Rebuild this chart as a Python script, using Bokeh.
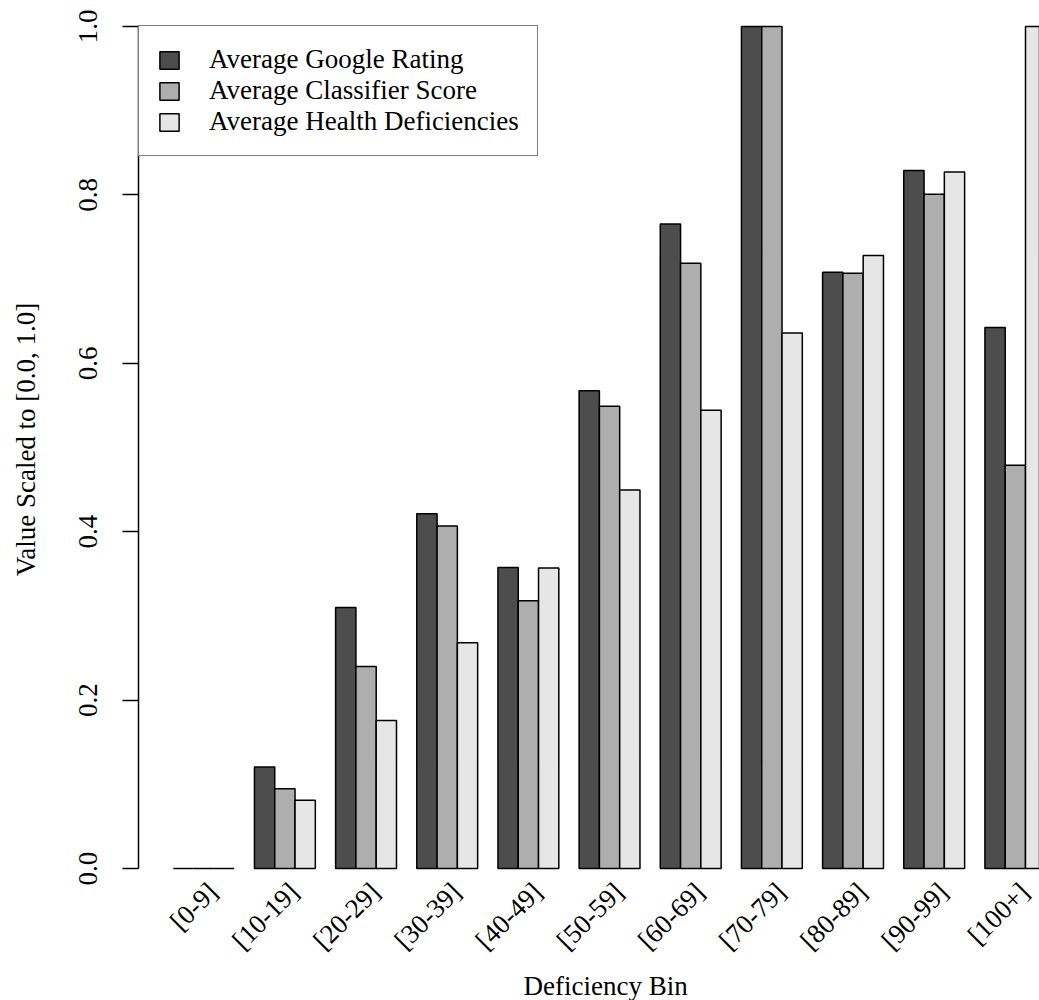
import math
from bokeh.plotting import figure
from bokeh.models import FixedTicker, Range1d, Legend, LegendItem, Title, ColumnDataSource
from bokeh.embed import file_html
from bokeh.resources import INLINE

bins = ["[0-9]", "[10-19]", "[20-29]", "[30-39]", "[40-49]", "[50-59]",
        "[60-69]", "[70-79]", "[80-89]", "[90-99]", "[100+]"]
google_rating = [0.0, 0.1205, 0.310, 0.4214, 0.3574, 0.5675, 0.7654, 1.0, 0.708, 0.829, 0.6426]
classifier_score = [0.0, 0.0948, 0.240, 0.4068, 0.318, 0.549, 0.7188, 1.0, 0.7069, 0.8006, 0.479]
health_deficiencies = [0.0, 0.081, 0.1757, 0.268, 0.357, 0.4494, 0.5442, 0.636, 0.728, 0.827, 1.0]
series_names = ["Average Google Rating", "Average Classifier Score", "Average Health Deficiencies"]
series_values = [google_rating, classifier_score, health_deficiencies]
series_colors = ["#4D4D4D", "#AEAEAE", "#E6E6E6"]
y_ticks = [0.0, 0.2, 0.4, 0.6, 0.8, 1.0]

FONT = "Liberation Serif"
FS = "27px"
n_series = len(series_values)
group_w = n_series + 1  # R barplot: one bar-width gap between groups

p = figure(width=1039, height=1000, output_backend="svg", toolbar_location=None,
           x_range=Range1d(-0.715, 43.69), y_range=Range1d(-0.01185, 1.0308),
           min_border_left=138, min_border_right=0, min_border_top=0, min_border_bottom=120)
p.outline_line_color = None
p.xgrid.visible = False
p.ygrid.visible = False
p.background_fill_color = "white"

renderers = []
for j, (vals, col) in enumerate(zip(series_values, series_colors)):
    xs = [group_w * i + 1 + j + 0.5 for i in range(len(bins))]
    src = ColumnDataSource(dict(x=xs, top=vals))
    r = p.vbar(x="x", top="top", bottom=0, width=1, source=src,
               fill_color=col, line_color="black", line_width=1.5)
    renderers.append(r)

# x axis: rotated labels, anchored slightly right of each group centre (R srt=45, adj=1)
label_shift = 0.45
centers = [group_w * i + 1 + n_series / 2 + label_shift for i in range(len(bins))]
xa = p.xaxis[0]
xa.ticker = FixedTicker(ticks=centers)
xa.major_label_overrides = {c: b for c, b in zip(centers, bins)}
xa.major_label_orientation = math.pi / 4
xa.axis_line_color = None
xa.major_tick_line_color = None
xa.minor_tick_line_color = None
xa.major_label_text_font = FONT
xa.major_label_text_font_size = FS
xa.major_label_text_color = "black"
xa.major_label_standoff = 3

# x axis title, placed below the tick labels and centred on the bar layout
xtitle = Title(text="Deficiency Bin", align="left", offset=385, standoff=0,
               text_font=FONT, text_font_size=FS, text_font_style="normal",
               text_color="black")
p.add_layout(xtitle, "below")

# y axis
ya = p.yaxis[0]
ya.ticker = FixedTicker(ticks=y_ticks)
ya.major_label_overrides = {t: f"{t:.1f}" for t in y_ticks}
ya.bounds = (0, 1)
ya.axis_line_color = "black"
ya.axis_line_width = 1.5
ya.major_tick_line_color = "black"
ya.major_tick_line_width = 1.5
ya.major_tick_out = 16
ya.major_tick_in = 0
ya.minor_tick_line_color = None
ya.major_label_orientation = "vertical"
ya.major_label_text_font = FONT
ya.major_label_text_font_size = FS
ya.major_label_text_color = "black"
ya.major_label_standoff = 25
ya.axis_label = "Value Scaled to [0.0, 1.0]"
ya.axis_label_text_font = FONT
ya.axis_label_text_font_size = FS
ya.axis_label_text_font_style = "normal"
ya.axis_label_text_color = "black"
ya.axis_label_standoff = 36

legend = Legend(items=[LegendItem(label=n, renderers=[r]) for n, r in zip(series_names, renderers)],
                location=(0, 722), margin=0, padding=18, spacing=0,
                glyph_width=24, glyph_height=22, label_height=30, label_standoff=28,
                label_text_font=FONT, label_text_font_size=FS, label_text_color="black",
                border_line_color="black", border_line_width=1.5,
                background_fill_color="white", background_fill_alpha=1.0)
p.add_layout(legend)

open("out.html", "w").write(file_html(p, INLINE))
